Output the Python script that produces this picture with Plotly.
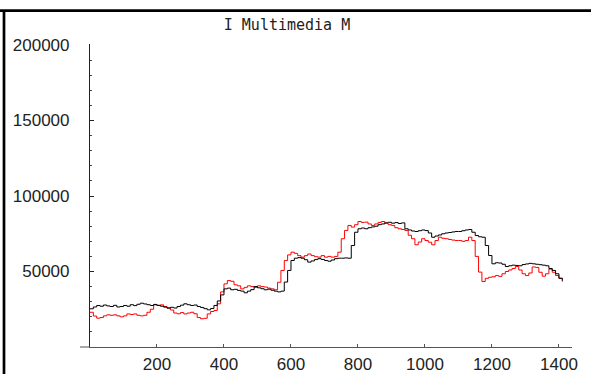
import plotly.graph_objects as go

x_vals = list(range(0, 1420, 10))

black_vals = [
    25300, 26500, 27500, 27000, 27800, 27200, 26800, 27600, 26500, 26800, 27500,
    27000, 28000, 27400, 28300, 29000, 28500, 28000, 27500, 28200, 27600,
    27000, 26400, 25700, 26300, 25800, 26800, 27700, 28600, 28000, 27500,
    27800, 26800, 26200, 25400, 24600, 25500, 27500, 30500, 34500, 38500,
    39000, 37900, 38200, 37500, 37000, 35900, 37000, 38000, 40000, 39200,
    38600, 37900, 38300, 37600, 37000, 36500, 37000, 43000, 50700, 57300,
    58800, 59200, 58800, 57800, 56200, 57000, 57900, 58500, 58000, 57300,
    56800, 57600, 58500, 58800, 58800, 59000, 58800, 67200, 76000, 78300,
    78800, 78300, 79000, 79500, 80000, 81000, 81500, 82200, 82600, 82000,
    82400, 81800, 82200, 78300, 77500, 76800, 76500, 77000, 77500, 77100,
    75500, 72700, 73500, 74200, 75000, 75500, 75800, 76200, 76500, 76500,
    77000, 77500, 77800, 76000, 73800, 73000, 72700, 67200, 60600, 55100,
    55800, 55600, 54800, 53300, 53800, 54200, 54000, 53800, 54600, 55000,
    55400, 55100, 54800, 54500, 54200, 53800, 52000, 50700, 48500, 45500, 43400,
]

red_vals = [
    23000, 20500, 19100, 19500, 20600, 21300, 21000, 21300, 20600, 20000, 20600,
    21900, 21500, 21900, 21000, 20600, 21000, 23000, 25000, 27900, 27500,
    27900, 26800, 26000, 24500, 22500, 22000, 22800, 21900, 22500, 23000,
    22000, 19500, 18700, 19000, 21900, 23500, 24200, 28600, 36500, 41800,
    44000, 43500, 41200, 40500, 38500, 39500, 40500, 40000, 39500, 40500,
    40000, 39700, 39000, 38500, 37900, 42900, 50700, 57300, 61000, 62800,
    62000, 60500, 59500, 60500, 61600, 60500, 59800, 59500, 60500, 59500,
    60000, 59500, 60000, 62800, 71700, 77200, 80500, 79400, 81000, 83100,
    82500, 82700, 81500, 80500, 81500, 82500, 83100, 82000, 81000, 80500,
    79000, 78300, 77800, 77200, 74000, 71700, 67700, 69500, 71700, 70500,
    69400, 67700, 70500, 72700, 72000, 71700, 71200, 70800, 70500, 70500,
    70000, 70500, 72700, 70500, 60000, 49600, 43400, 45500, 46200, 46500,
    47300, 46800, 48500, 50000, 51000, 52000, 53300, 51000, 48500, 47300,
    49000, 53000, 52700, 49500, 46900, 48500, 51600, 49500, 47300, 45500, 44700,
]

x_ticks = [200, 400, 600, 800, 1000, 1200, 1400]
y_ticks = [50000, 100000, 150000, 200000]
title_text = "I Multimedia M"

fig = go.Figure()
fig.add_trace(go.Scatter(x=x_vals, y=red_vals, mode="lines",
                         line=dict(color="#ff0000", width=1, shape="hv"),
                         showlegend=False))
fig.add_trace(go.Scatter(x=x_vals, y=black_vals, mode="lines",
                         line=dict(color="#000000", width=1, shape="hv"),
                         showlegend=False))

W, H = 591, 374
L, R, T, B = 90, 19, 44, 27
pw, ph = W - L - R, H - T - B

def px(xp):
    return (xp - L) / pw

def py(yp):
    return (H - B - yp) / ph

shapes = [
    # x-axis extension left of the y-axis
    dict(type="line", xref="paper", yref="paper", x0=px(80), x1=0, y0=0, y1=0,
         line=dict(color="#555555", width=1)),
    # frame lines of the picture
    dict(type="line", xref="paper", yref="paper", x0=px(0), x1=px(591),
         y0=py(10.7), y1=py(10.7), line=dict(color="#000000", width=2.7)),
    dict(type="line", xref="paper", yref="paper", x0=px(4), x1=px(4),
         y0=py(10.7), y1=py(376), line=dict(color="#000000", width=2.7)),
]

fig.update_layout(
    width=W, height=H,
    margin=dict(l=L, r=R, t=T, b=B, autoexpand=False),
    paper_bgcolor="white", plot_bgcolor="white",
    font=dict(family="Liberation Sans, Arial, sans-serif", size=17, color="#222222"),
    title=dict(text=title_text, x=287 / W, xanchor="center", xref="container",
               y=1 - 25 / H, yanchor="middle", yref="container",
               font=dict(family="DejaVu Sans Mono, monospace", size=15, color="#222222")),
    xaxis=dict(range=[0, 1439], tickvals=x_ticks, ticktext=[str(v) for v in x_ticks],
               showgrid=False, zeroline=False, showline=True, linecolor="#555555",
               linewidth=1, ticks="inside", ticklen=3, tickcolor="#555555",
               ticklabelstandoff=2, automargin=False),
    yaxis=dict(range=[0, 200662], tickvals=y_ticks, ticktext=[str(v) for v in y_ticks],
               showgrid=False, zeroline=False, showline=True, linecolor="#222222",
               linewidth=1.2, ticks="inside", ticklen=4, tickcolor="#222222",
               ticklabelstandoff=16, automargin=False,
               minor=dict(dtick=10000, ticks="inside", ticklen=2, tickcolor="#444444",
                          showgrid=False)),
    shapes=shapes,
)

fig.write_html("out.html")
